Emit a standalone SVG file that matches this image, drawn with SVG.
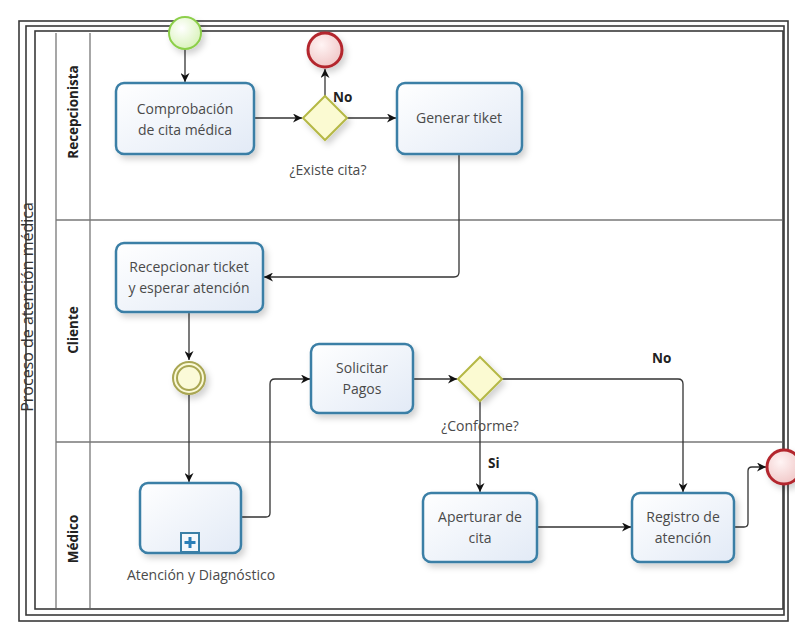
<svg xmlns="http://www.w3.org/2000/svg" width="795" height="629" viewBox="0 0 795 629">
<defs>
<linearGradient id="gTask" x1="0" y1="0" x2="1" y2="1">
<stop offset="0" stop-color="#ffffff"/>
<stop offset="1" stop-color="#e2eaf6"/>
</linearGradient>
<radialGradient id="gStart" cx="0.4" cy="0.35" r="0.7">
<stop offset="0" stop-color="#ffffff"/>
<stop offset="1" stop-color="#d8f2b8"/>
</radialGradient>
<radialGradient id="gEnd" cx="0.4" cy="0.35" r="0.7">
<stop offset="0" stop-color="#fff4f4"/>
<stop offset="1" stop-color="#f0c6c6"/>
</radialGradient>
<filter id="sh" x="-20%" y="-20%" width="150%" height="160%">
<feDropShadow dx="3" dy="4" stdDeviation="3" flood-color="#000" flood-opacity="0.18"/>
</filter>
<marker id="arr" viewBox="0 0 10 10" refX="10" refY="5" markerWidth="9" markerHeight="9" markerUnits="userSpaceOnUse" orient="auto">
<path d="M0,0 L10,5 L0,10 L3,5 Z" fill="#111"/>
</marker>
</defs>
<style>
.task{fill:url(#gTask);stroke:#3a7fa6;stroke-width:2.5;filter:url(#sh)}
.t{font-family:"Open Sans","DejaVu Sans",sans-serif;font-size:14px;fill:#4a4a4a;text-anchor:middle}
.lane{font-family:"Open Sans","DejaVu Sans",sans-serif;font-size:13.5px;font-weight:bold;fill:#222;text-anchor:middle}
.lbl{font-family:"Open Sans","DejaVu Sans",sans-serif;font-size:13.5px;font-weight:bold;fill:#222}
.gw{fill:#fbfad2;stroke:#b5b845;stroke-width:2;filter:url(#sh)}
.edge{fill:none;stroke:#333;stroke-width:1.3}
.frame{fill:none;stroke:#3a3a3a;stroke-width:1.6}
.thin{fill:none;stroke:#777;stroke-width:1.3}
</style>
<rect width="795" height="629" fill="#fff"/>
<g id="pool">
<rect x="19" y="21" width="769" height="600" class="frame"/>
<rect x="26" y="26" width="758" height="589" class="frame"/>
<rect x="35" y="31" width="748" height="578" class="frame"/>
<line x1="56" y1="33" x2="56" y2="608" class="thin"/>
<line x1="90" y1="33" x2="90" y2="608" class="thin"/>
<line x1="56" y1="220" x2="782" y2="220" class="thin"/>
<line x1="56" y1="442" x2="782" y2="442" class="thin"/>
<text class="t" transform="translate(33,307) rotate(-90)" style="font-size:16px;fill:#333">Proceso de atención médica</text>
</g>
<g id="lane-recepcionista"><text class="lane" transform="translate(78,112) rotate(-90)">Recepcionista</text></g>
<g id="lane-cliente"><text class="lane" transform="translate(78,330) rotate(-90)">Cliente</text></g>
<g id="lane-medico"><text class="lane" transform="translate(78,539) rotate(-90)">Médico</text></g>

<g id="connectors">
<path class="edge" d="M185,49 L185,82" marker-end="url(#arr)"/>
<path class="edge" d="M254,118 L302,118" marker-end="url(#arr)"/>
<path class="edge" d="M325,96 L325,69" marker-end="url(#arr)"/>
<path class="edge" d="M347,118 L396,118" marker-end="url(#arr)"/>
<path class="edge" d="M459,154 L459,272 Q459,277 454,277 L264,277" marker-end="url(#arr)"/>
<path class="edge" d="M189,312 L189,360" marker-end="url(#arr)"/>
<path class="edge" d="M189,395 L189,482" marker-end="url(#arr)"/>
<path class="edge" d="M241,517 L266,517 Q270,517 270,513 L270,384 Q270,379 275,379 L310,379" marker-end="url(#arr)"/>
<path class="edge" d="M413,379 L457,379" marker-end="url(#arr)"/>
<path class="edge" d="M502,379 L678,379 Q683,379 683,384 L683,492" marker-end="url(#arr)"/>
<path class="edge" d="M480,401 L480,492" marker-end="url(#arr)"/>
<path class="edge" d="M537,527 L631,527" marker-end="url(#arr)"/>
<path class="edge" d="M734,527 L744,527 Q748,527 748,523 L748,471 Q748,467 752,467 L766,467" marker-end="url(#arr)"/>
<text class="lbl" x="333" y="102">No</text>
<text class="lbl" x="652" y="363">No</text>
<text class="lbl" x="488" y="468">Si</text>
</g>

<g id="start">
<circle cx="185" cy="33" r="16" fill="url(#gStart)" stroke="#8ccf4a" stroke-width="2" filter="url(#sh)"/>
</g>
<g id="task-comprobacion">
<rect class="task" x="116" y="83" width="138" height="71" rx="8"/>
<text class="t" x="185" y="114">Comprobación</text>
<text class="t" x="185" y="135">de cita médica</text>
</g>
<g id="gw-existe">
<polygon class="gw" points="325,96 347,118 325,140 303,118"/>
<text class="t" x="328" y="175">¿Existe cita?</text>
</g>
<g id="end-top">
<circle cx="325" cy="50" r="17" fill="url(#gEnd)" stroke="#b3282d" stroke-width="3" filter="url(#sh)"/>
</g>
<g id="task-generar">
<rect class="task" x="397" y="83" width="125" height="71" rx="8"/>
<text class="t" x="459" y="123">Generar tiket</text>
</g>
<g id="task-recepcionar">
<rect class="task" x="116" y="243" width="147" height="69" rx="8"/>
<text class="t" x="189" y="272">Recepcionar ticket</text>
<text class="t" x="189" y="293">y esperar atención</text>
</g>
<g id="intermediate">
<circle cx="189" cy="378" r="16" fill="#fbfad8" stroke="#a9a653" stroke-width="2" filter="url(#sh)"/>
<circle cx="189" cy="378" r="12" fill="none" stroke="#a9a653" stroke-width="2"/>
</g>
<g id="sub-atencion">
<rect class="task" x="140" y="483" width="101" height="70" rx="8"/>
<rect x="181" y="533" width="18" height="19" fill="#f4f8fc" stroke="#3a7fa6" stroke-width="2"/>
<path d="M190,537 V548 M184.5,542.5 H195.5" stroke="#2a7fb8" stroke-width="3"/>
<text class="t" x="201" y="580">Atención  y Diagnóstico</text>
</g>
<g id="task-solicitar">
<rect class="task" x="311" y="344" width="102" height="69" rx="8"/>
<text class="t" x="362" y="373">Solicitar</text>
<text class="t" x="362" y="394">Pagos</text>
</g>
<g id="gw-conforme">
<polygon class="gw" points="480,357 502,379 480,401 458,379"/>
<text class="t" x="480" y="431">¿Conforme?</text>
</g>
<g id="task-apertura">
<rect class="task" x="423" y="493" width="114" height="69" rx="8"/>
<text class="t" x="480" y="522">Aperturar de</text>
<text class="t" x="480" y="543">cita</text>
</g>
<g id="task-registro">
<rect class="task" x="632" y="493" width="102" height="69" rx="8"/>
<text class="t" x="683" y="522">Registro de</text>
<text class="t" x="683" y="543">atención</text>
</g>
<g id="end-bottom">
<circle cx="784" cy="467" r="17" fill="url(#gEnd)" stroke="#b3282d" stroke-width="3" filter="url(#sh)"/>
</g>
</svg>
